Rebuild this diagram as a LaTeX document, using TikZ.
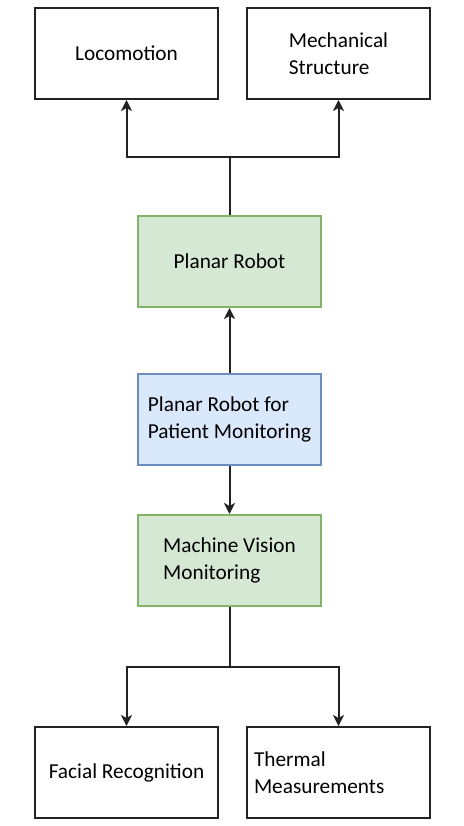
\documentclass[tikz,border=0pt]{standalone}
\usepackage{fontspec}
\setmainfont{Carlito}
\usetikzlibrary{arrows.meta}

\definecolor{greenfill}{HTML}{D5E8D4}
\definecolor{greenline}{HTML}{82B366}
\definecolor{bluefill}{HTML}{DAE8FC}
\definecolor{blueline}{HTML}{6C8EBF}
\definecolor{boxline}{HTML}{222222}

\tikzset{every picture/.style={line width=2pt}}
\tikzset{
  box/.style={draw=boxline, line width=2pt, minimum width=183, minimum height=91, align=left,
    font=\fontsize{21.3}{27}\selectfont},
  greenbox/.style={box, draw=greenline, fill=greenfill},
  bluebox/.style={box, draw=blueline, fill=bluefill},
  arrowline/.style={draw=boxline, line width=2pt, -{Stealth[length=11pt,width=11pt,inset=3pt]}}
}

\begin{document}
\begin{tikzpicture}[x=1pt,y=1pt,yscale=-1,xscale=1]
\useasboundingbox (0,0) rectangle (463,826);

%Top row
\node [box] (loco) at (126.5,53.5) {Locomotion};
\node [box] (mech) at (338.5,53.5) {Mechanical\\Structure};
%Middle column
\node [greenbox] (planar) at (229.5,261.5) {Planar Robot};
\node [bluebox] (patient) at (229.5,419.5) {Planar Robot for\\Patient Monitoring};
\node [greenbox] (vision) at (229.5,560.5) {Machine Vision\\Monitoring};
%Bottom row
\node [box] (facial) at (126.5,772.5) {Facial Recognition};
\node [box, text width=169, inner xsep=7] (thermal) at (338.5,772.5) {Thermal\\Measurements};

%Split points
\coordinate (topsplit) at (229.5,157);
\coordinate (botsplit) at (229.5,667);

%Connectors
\draw [boxline, line width=2pt] (planar.north) -- (topsplit);
\draw [arrowline] (topsplit) -| (loco.south);
\draw [arrowline] (topsplit) -| (mech.south);
\draw [arrowline] (patient.north) -- (planar.south);
\draw [arrowline] (patient.south) -- (vision.north);
\draw [boxline, line width=2pt] (vision.south) -- (botsplit);
\draw [arrowline] (botsplit) -| (facial.north);
\draw [arrowline] (botsplit) -| (thermal.north);

\end{tikzpicture}
\end{document}
